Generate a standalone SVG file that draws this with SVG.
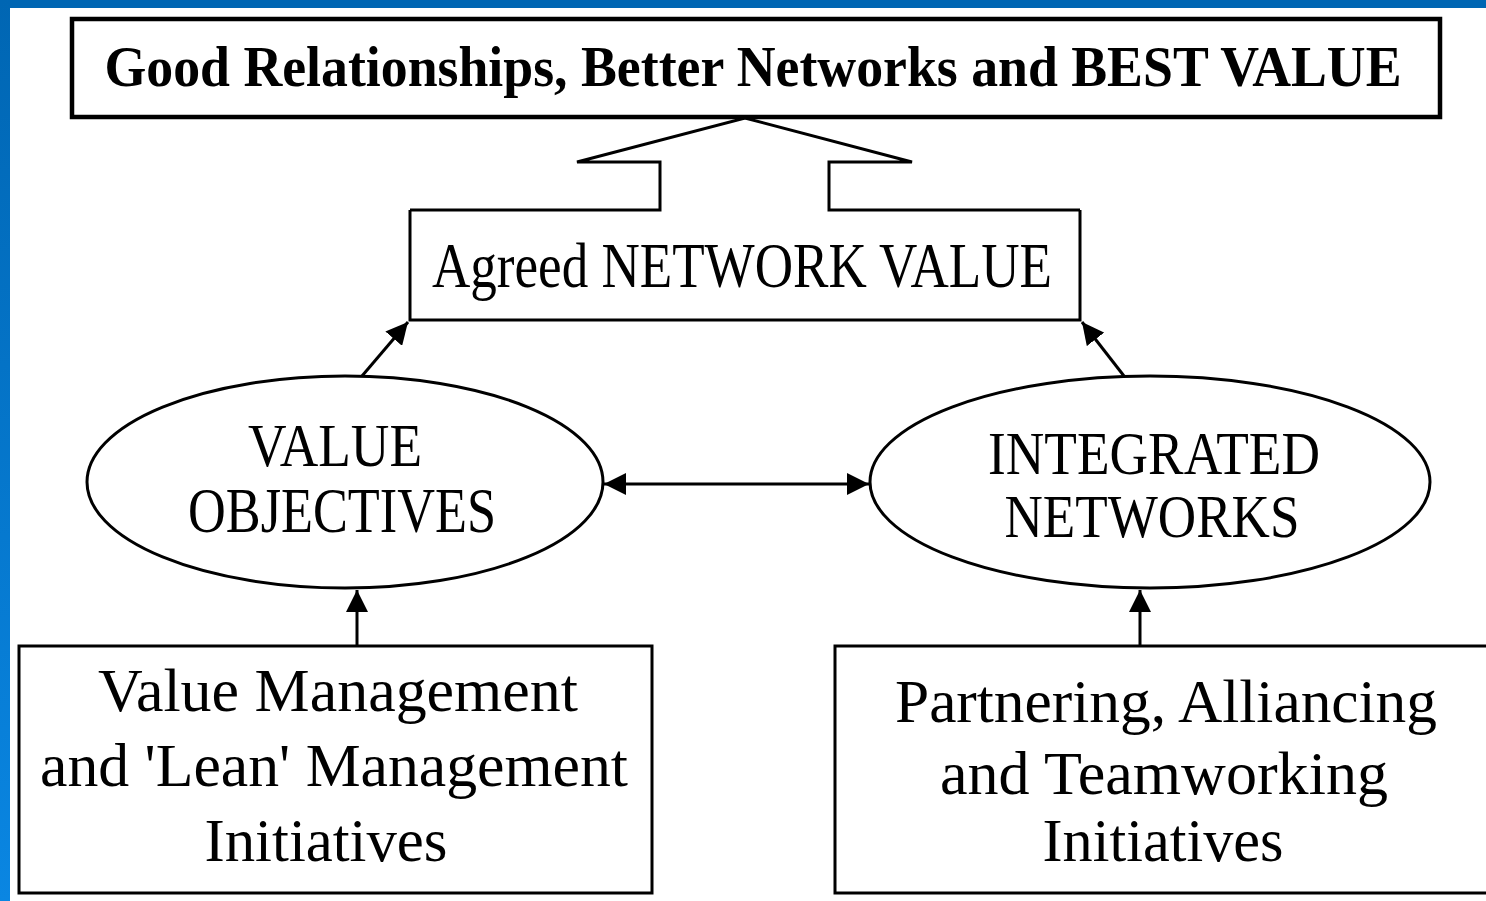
<svg xmlns="http://www.w3.org/2000/svg" width="1486" height="901" viewBox="0 0 1486 901">
<defs>
<linearGradient id="edge" x1="0" y1="0" x2="0" y2="1">
<stop offset="0" stop-color="#0066b3"/>
<stop offset="1" stop-color="#0a86e2"/>
</linearGradient>
<marker id="ah" viewBox="0 0 10 10" refX="10" refY="5" markerWidth="22" markerHeight="22" markerUnits="userSpaceOnUse" orient="auto-start-reverse">
<path d="M0,0 L10,5 L0,10 z" fill="#000"/>
</marker>
<style>
.box{fill:#fff;stroke:#000;stroke-width:3}
.t{font-family:"Liberation Serif","Times New Roman",serif;fill:#000}
.line{fill:none;stroke:#000;stroke-width:3}
</style>
</defs>
<rect x="0" y="0" width="1486" height="901" fill="#fff"/>
<rect x="0" y="0" width="1486" height="8" fill="#0066b3"/>
<rect x="0" y="0" width="10" height="901" fill="url(#edge)"/>

<g id="connectors">
<path class="line" d="M410,210 L660,210 L660,162 L577,162 L745,118 L912,162 L829,162 L829,210 L1080,210"/>
<line class="line" x1="362" y1="376" x2="408" y2="322" marker-end="url(#ah)"/>
<line class="line" x1="1124" y1="376" x2="1082" y2="322" marker-end="url(#ah)"/>
<line class="line" x1="604" y1="484" x2="869" y2="484" marker-start="url(#ah)" marker-end="url(#ah)"/>
<line class="line" x1="357" y1="645" x2="357" y2="590" marker-end="url(#ah)"/>
<line class="line" x1="1140" y1="645" x2="1140" y2="590" marker-end="url(#ah)"/>
</g>

<g id="goal">
<rect x="72" y="19" width="1368" height="98" fill="#fff" stroke="#000" stroke-width="4.5"/>
<text class="t" x="753" y="86" font-size="57" font-weight="bold" text-anchor="middle" textLength="1297" lengthAdjust="spacingAndGlyphs">Good Relationships, Better Networks and BEST VALUE</text>
</g>

<g id="agreed">
<path d="M410,210 L410,320 L1080,320 L1080,210" fill="none" stroke="#000" stroke-width="3"/>
<text class="t" x="742" y="287" font-size="63" text-anchor="middle" textLength="620" lengthAdjust="spacingAndGlyphs">Agreed NETWORK VALUE</text>
</g>

<g id="value-objectives">
<ellipse class="box" cx="345" cy="482" rx="258" ry="106"/>
<text class="t" x="335" y="466" font-size="61" text-anchor="middle" textLength="174" lengthAdjust="spacingAndGlyphs">VALUE</text>
<text class="t" x="342" y="532" font-size="63" text-anchor="middle" textLength="308" lengthAdjust="spacingAndGlyphs">OBJECTIVES</text>
</g>

<g id="integrated-networks">
<ellipse class="box" cx="1150" cy="482" rx="280" ry="106"/>
<text class="t" x="1154" y="474" font-size="62" text-anchor="middle" textLength="332" lengthAdjust="spacingAndGlyphs">INTEGRATED</text>
<text class="t" x="1152" y="537" font-size="62" text-anchor="middle" textLength="295" lengthAdjust="spacingAndGlyphs">NETWORKS</text>
</g>

<g id="value-management">
<rect class="box" x="19" y="646" width="633" height="247"/>
<text class="t" x="338" y="711" font-size="62" text-anchor="middle" textLength="480" lengthAdjust="spacingAndGlyphs">Value Management</text>
<text class="t" x="334" y="786" font-size="62" text-anchor="middle" textLength="588" lengthAdjust="spacingAndGlyphs">and 'Lean' Management</text>
<text class="t" x="326" y="861" font-size="62" text-anchor="middle" textLength="243" lengthAdjust="spacingAndGlyphs">Initiatives</text>
</g>

<g id="partnering">
<rect class="box" x="835" y="646" width="660" height="247"/>
<text class="t" x="1166" y="722" font-size="62" text-anchor="middle" textLength="542" lengthAdjust="spacingAndGlyphs">Partnering, Alliancing</text>
<text class="t" x="1164" y="794" font-size="62" text-anchor="middle" textLength="448" lengthAdjust="spacingAndGlyphs">and Teamworking</text>
<text class="t" x="1163" y="861" font-size="62" text-anchor="middle" textLength="241" lengthAdjust="spacingAndGlyphs">Initiatives</text>
</g>
</svg>
